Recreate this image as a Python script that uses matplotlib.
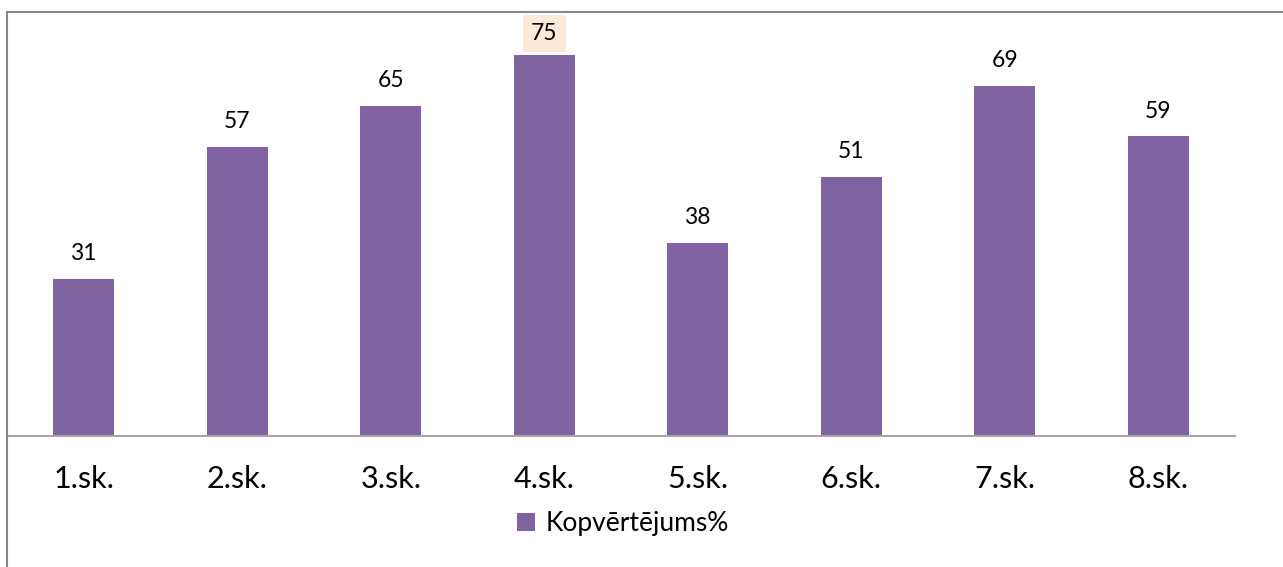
import matplotlib
matplotlib.use("Agg")
import matplotlib.pyplot as plt
from matplotlib.lines import Line2D
from matplotlib.patches import Patch

categories = ["1.sk.", "2.sk.", "3.sk.", "4.sk.", "5.sk.", "6.sk.", "7.sk.", "8.sk."]
values = [31, 57, 65, 75, 38, 51, 69, 59]
series_name = "Kopvērtējums%"
highlight_index = 3

plt.rcParams['font.family'] = ['Lato', 'DejaVu Sans']

W, H = 1283, 567
fig = plt.figure(figsize=(W / 100, H / 100), dpi=100)

left_px, right_px, top_px, base_px = 7, 1235, 12, 436
ax = fig.add_axes([left_px / W, (H - base_px) / H, (right_px - left_px) / W, (base_px - top_px) / H])

x = list(range(len(categories)))
bar_color = "#8064A2"
bars = ax.bar(x, values, width=0.4, color=bar_color, label=series_name, zorder=2)
ax.set_xlim(-0.5, len(categories) - 0.5)
ax.set_ylim(0, 83.5)

for s in ["top", "right", "left"]:
    ax.spines[s].set_visible(False)
ax.spines["bottom"].set_color("#A6A6A6")
ax.spines["bottom"].set_linewidth(1.5)
ax.set_yticks([])
ax.set_xticks(x)
ax.set_xticklabels(categories, fontsize=22, color="#000000")
ax.tick_params(axis="x", length=0, pad=21)

for i, v in enumerate(values):
    kw = {}
    offset = 13.5
    if i == highlight_index:
        kw["bbox"] = dict(boxstyle="square,pad=0.36", facecolor="#FDE9D9", edgecolor="none")
        offset = 11
    ax.annotate(str(v), (i, v), xytext=(0, offset), textcoords="offset points",
                ha="center", va="baseline", fontsize=16.5, color="#000000", **kw)

fig.legend(handles=[Patch(facecolor=bar_color, edgecolor="none", label=series_name)],
           loc="center", bbox_to_anchor=(623 / W, 1 - 524 / H), frameon=False,
           fontsize=19, handlelength=0.65, handleheight=0.65, handletextpad=0.4)

# chart frame (left and top edges visible)
frame_color = "#888888"
fig.add_artist(Line2D([left_px / W, left_px / W], [0, 1 - top_px / H], transform=fig.transFigure,
                      color=frame_color, linewidth=1.5))
fig.add_artist(Line2D([left_px / W, 1], [1 - top_px / H, 1 - top_px / H], transform=fig.transFigure,
                      color=frame_color, linewidth=1.5))

fig.savefig("out.png", dpi=100, facecolor="white")
